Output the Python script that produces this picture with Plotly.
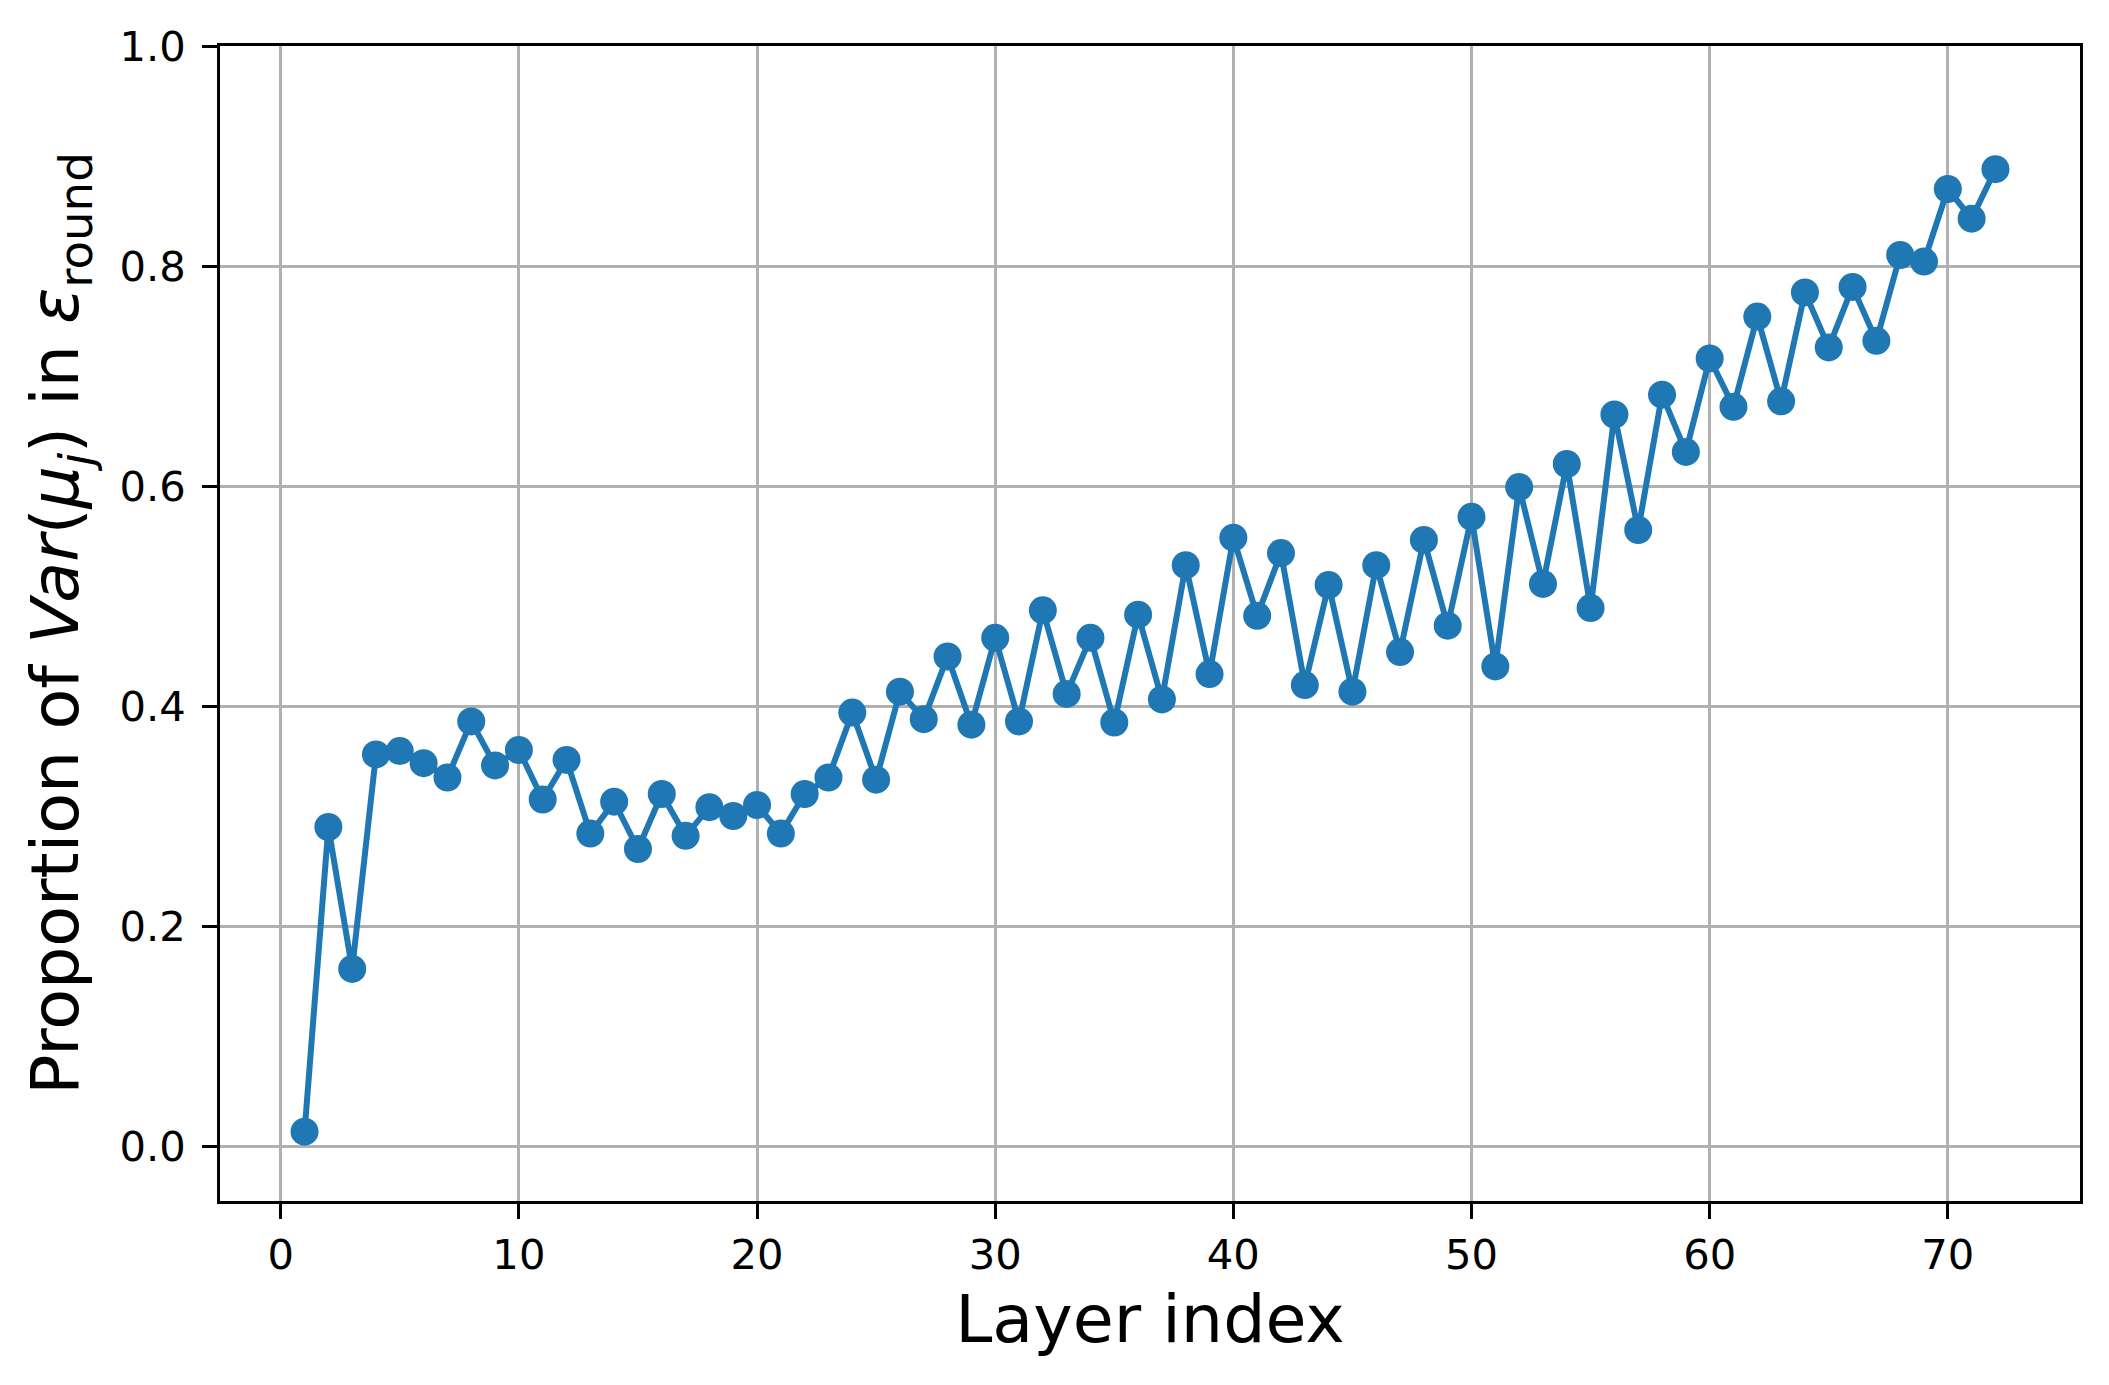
import plotly.graph_objects as go

layers = list(range(1, 73))
proportion = [
    0.013, 0.290, 0.161, 0.356, 0.359, 0.348, 0.335, 0.386, 0.346, 0.360,
    0.315, 0.351, 0.284, 0.313, 0.270, 0.320, 0.282, 0.308, 0.300, 0.310,
    0.284, 0.320, 0.335, 0.394, 0.333, 0.413, 0.388, 0.445, 0.383, 0.462,
    0.386, 0.487, 0.411, 0.462, 0.385, 0.483, 0.406, 0.528, 0.429, 0.553,
    0.482, 0.539, 0.419, 0.510, 0.413, 0.528, 0.449, 0.551, 0.473, 0.572,
    0.436, 0.599, 0.511, 0.620, 0.489, 0.665, 0.560, 0.683, 0.631, 0.716,
    0.672, 0.754, 0.677, 0.776, 0.726, 0.781, 0.732, 0.810, 0.804, 0.870,
    0.843, 0.888,
]
x_ticks = [0, 10, 20, 30, 40, 50, 60, 70]
y_ticks = [0.0, 0.2, 0.4, 0.6, 0.8, 1.0]

COLOR = "#1f77b4"
FONT = "DejaVu Sans"

fig = go.Figure()
fig.add_trace(go.Scatter(
    x=layers, y=proportion, mode="lines+markers",
    line=dict(color=COLOR, width=6),
    marker=dict(color=COLOR, size=28),
    showlegend=False,
))

axis_common = dict(
    showline=True, linecolor="black", linewidth=3.3, mirror=True,
    ticks="outside", ticklen=14.6, tickwidth=3.3, tickcolor="black",
    showgrid=True, gridcolor="#b0b0b0", gridwidth=3.3,
    zeroline=False,
    tickfont=dict(family=FONT, size=41.7, color="black"),
)

# page body has an 8px default margin, so the figure is shrunk by that offset
fig.update_layout(
    width=2101, height=1377,
    paper_bgcolor="white", plot_bgcolor="white",
    margin=dict(l=212, r=29, t=38, b=184, autoexpand=False),
    font=dict(family=FONT, color="black"),
    xaxis=dict(
        range=[-2.55, 75.55], tickvals=x_ticks,
        title=dict(text="Layer index", font=dict(family=FONT, size=66.7), standoff=18),
        **axis_common,
    ),
    yaxis=dict(
        range=[-0.05, 1.0], tickvals=y_ticks, tickformat=".1f",
        ticklabelstandoff=8,
        title=dict(
            text="Proportion of <i>Var</i>(<i>μ<sub>j</sub></i>) in <i>ε</i><sub>round</sub>",
            font=dict(family=FONT, size=66.7), standoff=20,
        ),
        **axis_common,
    ),
)

fig.write_html("out.html")
